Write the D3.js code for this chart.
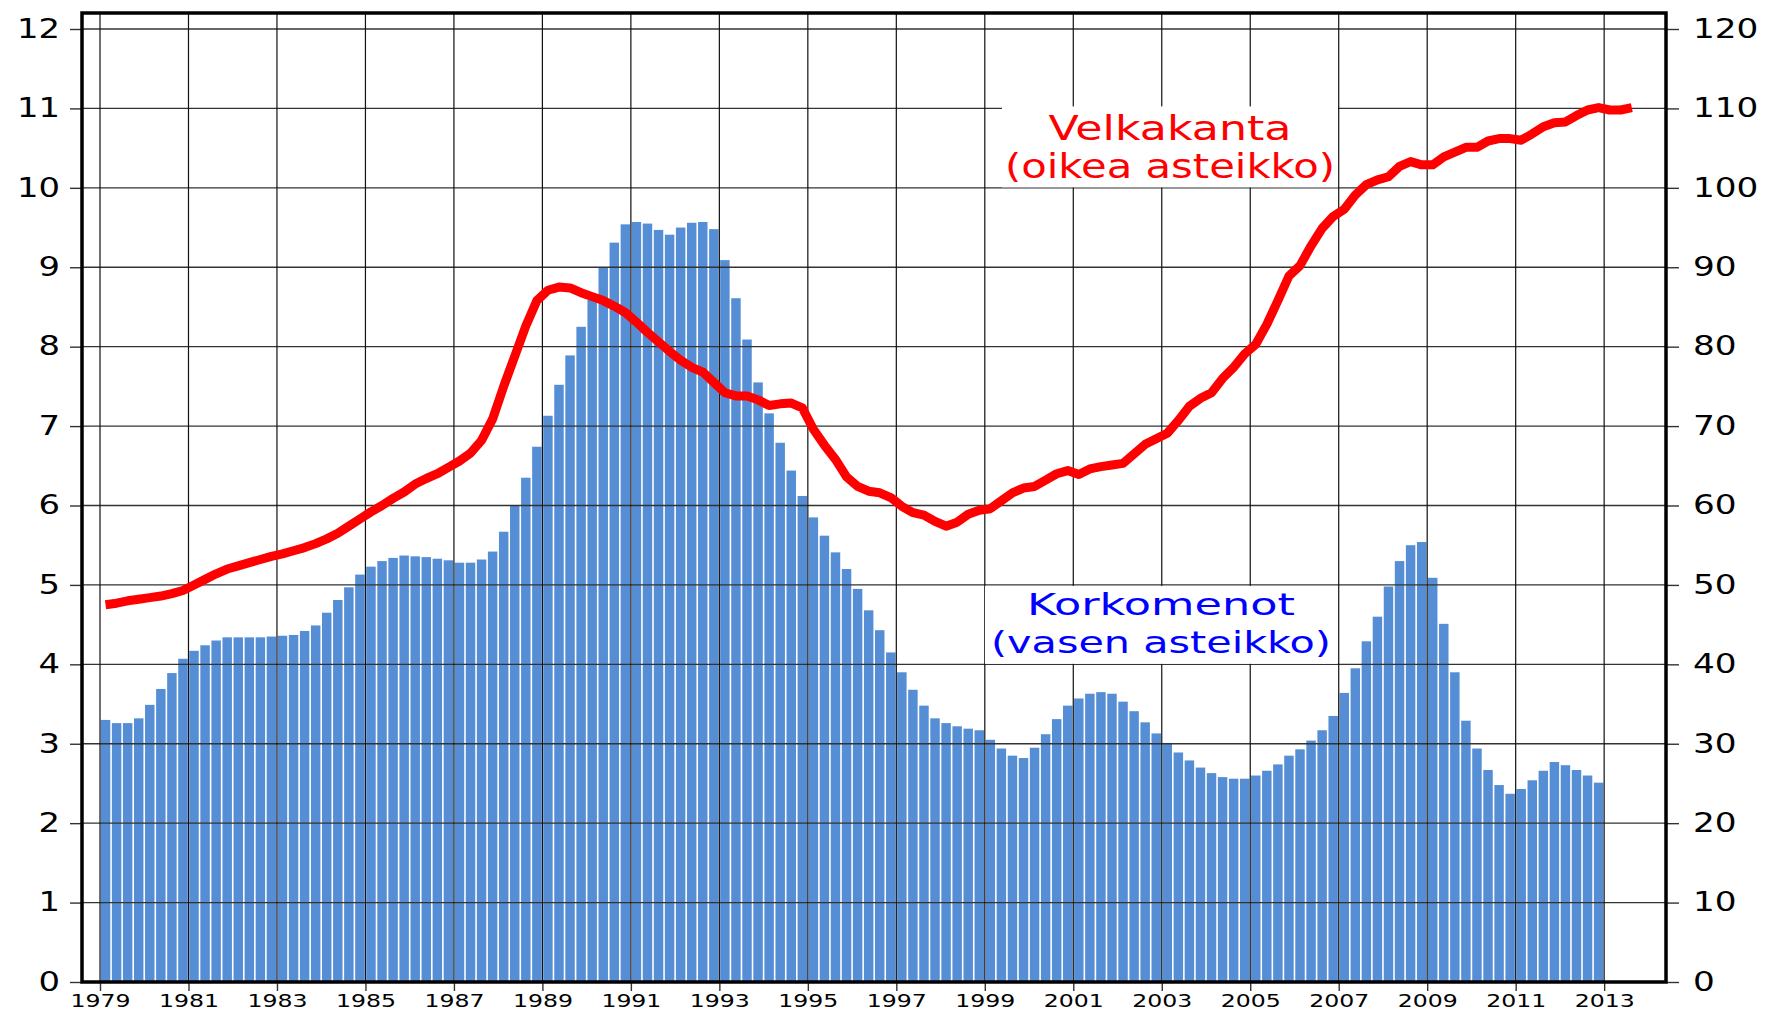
<!DOCTYPE html>
<html>
<head>
<meta charset="utf-8">
<script src="https://cdn.jsdelivr.net/npm/d3@7"></script>
<style>
  body { margin: 0; background: #fff; }
  svg text { font-family: "DejaVu Sans", sans-serif; }
</style>
</head>
<body>
<div id="chart"></div>
<script>
// Quarterly data, first quarter = 1979 Q1
const startYear = 1979;

// Korkomenot (left scale), 1979Q1 - 2012Q4
const korkomenot = [
  3.30, 3.26, 3.26, 3.32,  3.49, 3.69, 3.89, 4.07,  4.17, 4.24, 4.30, 4.34,
  4.34, 4.34, 4.34, 4.35,  4.36, 4.37, 4.42, 4.49,  4.65, 4.81, 4.97, 5.13,
  5.23, 5.30, 5.34, 5.37,  5.36, 5.35, 5.33, 5.31,  5.28, 5.28, 5.32, 5.42,
  5.67, 6.00, 6.35, 6.74,  7.13, 7.52, 7.89, 8.25,  8.59, 9.00, 9.31, 9.54,
  9.57, 9.55, 9.47, 9.41,  9.50, 9.56, 9.57, 9.48,  9.09, 8.61, 8.09, 7.55,
  7.16, 6.79, 6.44, 6.12,  5.85, 5.62, 5.41, 5.20,  4.95, 4.68, 4.43, 4.15,
  3.90, 3.68, 3.48, 3.32,  3.26, 3.22, 3.19, 3.17,  3.05, 2.94, 2.85, 2.82,
  2.95, 3.12, 3.31, 3.48,  3.57, 3.63, 3.65, 3.63,  3.53, 3.41, 3.27, 3.13,
  3.01, 2.89, 2.79, 2.70,  2.63, 2.58, 2.56, 2.56,  2.60, 2.66, 2.74, 2.85,
  2.93, 3.04, 3.17, 3.35,  3.64, 3.95, 4.29, 4.60,  4.98, 5.30, 5.50, 5.54,
  5.09, 4.51, 3.90, 3.29,  2.94, 2.67, 2.48, 2.37,  2.43, 2.54, 2.66, 2.77,
  2.73, 2.67, 2.60, 2.51
];

// Velkakanta (right scale), 1979Q1 - 2013Q3
const velkakanta = [
  47.5, 47.7, 48.0, 48.2,  48.4, 48.6, 48.9, 49.3,  50.0, 50.7, 51.4, 52.0,
  52.4, 52.8, 53.2, 53.6,  53.9, 54.3, 54.7, 55.2,  55.8, 56.5, 57.4, 58.3,
  59.2, 60.0, 60.9, 61.7,  62.7, 63.4, 64.0, 64.8,  65.6, 66.6, 68.2, 70.9,
  75.0, 78.8, 82.6, 85.8,  87.1, 87.5, 87.4, 86.8,  86.3, 85.8, 85.1, 84.3,
  83.1, 81.8, 80.6, 79.4,  78.3, 77.4, 76.8, 75.5,  74.2, 73.8, 73.8, 73.3,
  72.6, 72.8, 72.9, 72.3,  69.6, 67.6, 65.8, 63.6,  62.4, 61.8, 61.6, 61.0,
  59.9, 59.1, 58.8, 58.0,  57.4, 57.9, 58.9, 59.4,  59.6, 60.6, 61.6, 62.2,
  62.4, 63.2, 64.0, 64.4,  63.9, 64.6, 64.9, 65.1,  65.3, 66.5, 67.7, 68.4,
  69.1, 70.7, 72.5, 73.5,  74.2, 76.0, 77.4, 79.1,  80.3, 82.8, 85.8, 88.9,
  90.2, 92.7, 94.9, 96.4,  97.3, 99.1, 100.4, 101.0, 101.4, 102.7, 103.3, 102.9,
  102.9, 103.9, 104.5, 105.1, 105.1, 105.9, 106.2, 106.2, 106.0, 106.8, 107.7, 108.2,
  108.3, 109.1, 109.8, 110.1, 109.8, 109.8, 110.1
];

const yearTicks = [1979, 1981, 1983, 1985, 1987, 1989, 1991, 1993, 1995,
  1997, 1999, 2001, 2003, 2005, 2007, 2009, 2011, 2013];
const leftTicks = [0, 1, 2, 3, 4, 5, 6, 7, 8, 9, 10, 11, 12];
const rightTicks = [0, 10, 20, 30, 40, 50, 60, 70, 80, 90, 100, 110, 120];

const velkaLabel = ["Velkakanta", "(oikea asteikko)"];
const korkoLabel = ["Korkomenot", "(vasen asteikko)"];

// Layout
const W = 1767, H = 1015;
const plot = { left: 82, right: 1666, top: 13, bottom: 982 };

const svg = d3.select("#chart")
  .append("svg")
  .attr("width", W)
  .attr("height", H);

// Scales
const x = d3.scaleLinear().domain([1978.593, 2014.398]).range([plot.left, plot.right]);
const yL = d3.scaleLinear().domain([0, 12]).range([982, 29]);
const yR = d3.scaleLinear().domain([0, 120]).range([982, 29]);
const q = x(startYear + 0.25) - x(startYear); // width of one quarter

// Bars
svg.append("g")
  .selectAll("rect")
  .data(korkomenot)
  .enter()
  .append("rect")
  .attr("x", (d, i) => x(startYear + i / 4) + 0.8)
  .attr("width", q - 1.6)
  .attr("y", d => yL(d))
  .attr("height", d => yL(0) - yL(d))
  .style("fill", "#558ed5");

// Horizontal grid
svg.append("g")
  .selectAll("line")
  .data(leftTicks)
  .enter()
  .append("line")
  .attr("x1", plot.left)
  .attr("x2", plot.right)
  .attr("y1", d => yL(d))
  .attr("y2", d => yL(d))
  .style("stroke", "#333")
  .style("stroke-width", 1.4);

// Vertical grid
svg.append("g")
  .selectAll("line")
  .data(yearTicks)
  .enter()
  .append("line")
  .attr("x1", d => x(d))
  .attr("x2", d => x(d))
  .attr("y1", plot.top)
  .attr("y2", plot.bottom)
  .style("stroke", "#111")
  .style("stroke-width", 1.2);

// Label boxes
function labelBox(lines, color, top, bottom, x0, x1, fontSize, widths, baselines) {
  svg.append("rect")
    .attr("x", x0)
    .attr("y", top)
    .attr("width", x1 - x0)
    .attr("height", bottom - top)
    .style("fill", "#fff");
  const cx = (x0 + x1) / 2;
  lines.forEach((t, i) => {
    svg.append("text")
      .attr("x", cx)
      .attr("y", baselines[i])
      .attr("text-anchor", "middle")
      .attr("textLength", widths[i])
      .attr("lengthAdjust", "spacingAndGlyphs")
      .style("font-size", fontSize + "px")
      .style("fill", color)
      .text(t);
  });
}

labelBox(velkaLabel, "#ff0000", yL(11) - 2, yL(10) - 0.5, 1002, 1338, 34, [243, 330], [140, 178]);
labelBox(korkoLabel, "#0000ff", yL(5) + 1, yL(4) - 0.5, 985, 1337, 31, [268, 340], [615, 653]);

// Velkakanta line
const line = d3.line()
  .x((d, i) => x(startYear + (i + 0.5) / 4))
  .y(d => yR(d));

svg.append("path")
  .datum(velkakanta)
  .attr("d", line)
  .style("fill", "none")
  .style("stroke", "#ff0000")
  .style("stroke-width", 9)
  .style("stroke-linejoin", "round");

// Axes
const leftAxis = svg.append("g")
  .attr("transform", `translate(${plot.left},0)`)
  .call(d3.axisLeft(yL).tickValues(leftTicks).tickSize(12).tickPadding(10));

const rightAxis = svg.append("g")
  .attr("transform", `translate(${plot.right},0)`)
  .call(d3.axisRight(yR).tickValues(rightTicks).tickSize(13).tickPadding(14));

const bottomAxis = svg.append("g")
  .attr("transform", `translate(0,${plot.bottom})`)
  .call(d3.axisBottom(x).tickValues(yearTicks).tickFormat(d3.format("d")).tickSize(9).tickPadding(3));

[leftAxis, rightAxis, bottomAxis].forEach(a => {
  a.select(".domain").remove();
  a.selectAll(".tick line").style("stroke", "#333").style("stroke-width", 1.4);
  a.selectAll("text").style("fill", "#000").attr("lengthAdjust", "spacingAndGlyphs");
});

leftAxis.selectAll("text")
  .style("font-size", "26px")
  .attr("textLength", d => String(d).length * 21.5);

rightAxis.selectAll("text")
  .style("font-size", "26px")
  .attr("textLength", d => String(d).length * 21.8);

bottomAxis.selectAll("text")
  .style("font-size", "18.5px")
  .attr("textLength", d => String(d).length * 15);

// Frame
svg.append("rect")
  .attr("x", plot.left)
  .attr("y", plot.top)
  .attr("width", plot.right - plot.left)
  .attr("height", plot.bottom - plot.top)
  .style("fill", "none")
  .style("stroke", "#000")
  .style("stroke-width", 3.5);
</script>
</body>
</html>
